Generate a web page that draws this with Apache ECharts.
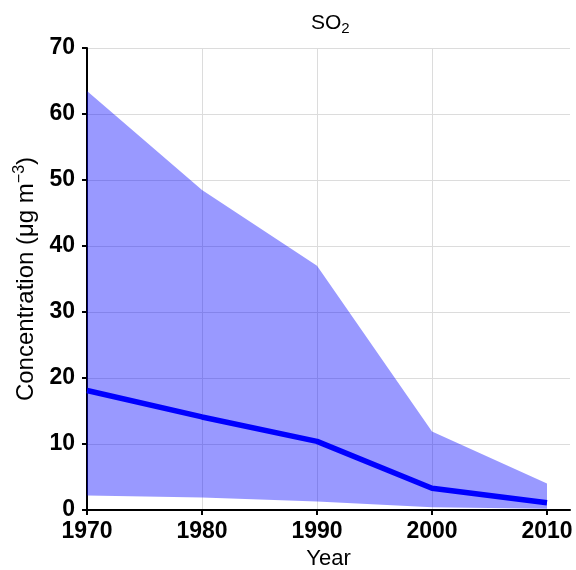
<!DOCTYPE html>
<html>
<head>
<meta charset="utf-8">
<script src="https://cdn.jsdelivr.net/npm/echarts@6/dist/echarts.min.js"></script>
<style>
html,body{margin:0;padding:0;background:#fff;}
#c{width:576px;height:570px;}
</style>
</head>
<body>
<div id="c"></div>
<script>
var years = [1970, 1980, 1990, 2000, 2010];
var meanValues = [18.1, 14.1, 10.4, 3.3, 1.1];
var upperValues = [63.5, 48.5, 37.0, 11.9, 4.0];
var lowerValues = [2.2, 1.9, 1.3, 0.4, 0.2];
var yTicks = [0, 10, 20, 30, 40, 50, 60, 70];
var xTicks = [1970, 1980, 1990, 2000, 2010];

var bandData = years.map(function (y, i) { return [y, lowerValues[i], upperValues[i]]; });
var meanPts = years.map(function (y, i) { return [y, meanValues[i]]; });

var font = '"Liberation Sans", Arial, sans-serif';
var chart = echarts.init(document.getElementById('c'), null, {renderer: 'canvas'});
chart.setOption({
  animation: false,
  backgroundColor: '#ffffff',
  title: {
    text: 'SO{sub|2}',
    left: 306,
    top: 6,
    textStyle: {
      fontFamily: font, fontSize: 21, fontWeight: 'normal', color: '#000',
      rich: { sub: { fontFamily: font, fontSize: 15, color: '#000', padding: [10, 0, 0, 0] } }
    }
  },
  grid: { left: 87, right: 6, top: 48, bottom: 60, containLabel: false, outerBoundsMode: 'none' },
  xAxis: {
    type: 'value',
    min: 1970,
    max: 2012,
    interval: 10,
    name: 'Year',
    nameLocation: 'middle',
    nameGap: 38,
    nameTextStyle: { fontFamily: font, fontSize: 22, color: '#000' },
    axisLine: { show: true, onZero: false, lineStyle: { color: '#000', width: 2 } },
    axisTick: { show: true, length: 5, lineStyle: { color: '#000', width: 2 }, customValues: xTicks },
    axisLabel: { fontFamily: font, fontSize: 23, fontWeight: 'bold', color: '#000', margin: 10,
      customValues: xTicks, formatter: function (v) { return String(v); } },
    splitLine: { show: true, showMaxLine: false, lineStyle: { color: '#dcdcdc', width: 1 } }
  },
  yAxis: {
    type: 'value',
    min: 0,
    max: 70,
    interval: 10,
    name: 'Concentration (μg m{sup|−3})',
    nameLocation: 'middle',
    nameGap: 44,
    nameTextStyle: {
      fontFamily: font, fontSize: 24, color: '#000',
      rich: { sup: { fontFamily: font, fontSize: 16, color: '#000', padding: [0, 0, 13, 0] } }
    },
    axisLine: { show: true, lineStyle: { color: '#000', width: 2 } },
    axisTick: { show: true, length: 5, lineStyle: { color: '#000', width: 2 } },
    axisLabel: { fontFamily: font, fontSize: 23, fontWeight: 'bold', color: '#000', margin: 12 },
    splitLine: { show: true, lineStyle: { color: '#dcdcdc', width: 1 } }
  },
  series: [
    {
      type: 'custom',
      data: bandData,
      silent: true,
      z: 1,
      renderItem: function (params, api) {
        if (params.dataIndex !== 0) return null;
        var pts = [];
        var i;
        for (i = 0; i < years.length; i++) pts.push(api.coord([years[i], upperValues[i]]));
        for (i = years.length - 1; i >= 0; i--) pts.push(api.coord([years[i], lowerValues[i]]));
        return {
          type: 'polygon',
          shape: { points: pts },
          style: { fill: 'rgba(0,0,255,0.4)', stroke: null }
        };
      }
    },
    {
      type: 'line', data: meanPts, symbol: 'none',
      lineStyle: { color: '#0000ff', width: 5.5 }, z: 3
    }
  ]
});
</script>
</body>
</html>
